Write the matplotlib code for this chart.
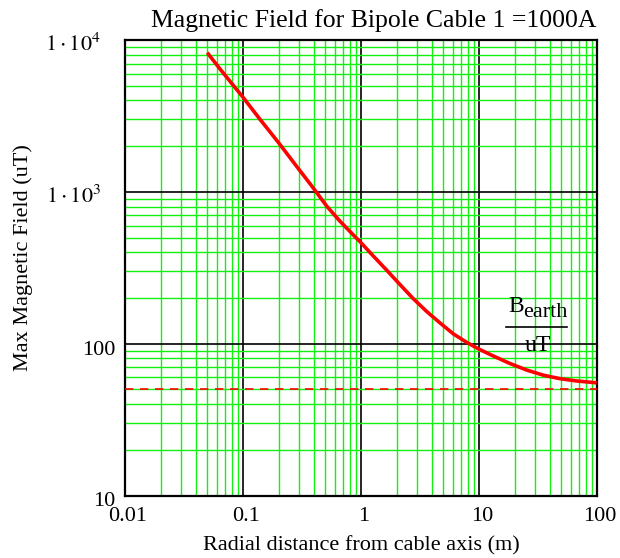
import matplotlib
matplotlib.use("Agg")
import matplotlib.pyplot as plt
from matplotlib.ticker import FixedLocator, LogLocator, NullFormatter
from matplotlib.lines import Line2D
from matplotlib.transforms import ScaledTranslation

plt.rcParams['font.family'] = ['Liberation Serif', 'DejaVu Serif']
plt.rcParams['mathtext.fontset'] = 'stix'

# data
distance_m = [0.0498, 0.0638, 0.0827, 0.1, 0.139, 0.199, 0.285, 0.394, 0.512,
              0.664, 0.861, 1.0, 1.27, 1.65, 2.14, 2.77, 3.60, 4.67, 6.06,
              7.87, 9.87, 13.2, 18.3, 25.4, 35.1, 48.6, 67.3, 99.4]
field_uT = [8250, 6450, 5030, 4194, 3010, 2120, 1470, 1060, 805,
            640, 520, 462, 378, 305, 245, 198, 163, 137, 116,
            102, 92.5, 83, 74, 67, 62, 58.8, 56.8, 55.2]
b_earth = 50
x_ticks = [0.01, 0.1, 1, 10, 100]
x_tick_labels = ['0.01', '0.1', '1', '10', '100']
y_ticks = [10, 100, 1000, 10000]
y_tick_labels = ['10', '100', r'$1\cdot10^{3}$', r'$1\cdot10^{4}$']

fig = plt.figure(figsize=(6.2, 5.58), dpi=100)
ax = fig.add_axes([125 / 620, 1 - 495.5 / 558, 472 / 620, 455.5 / 558])
ax.set_xscale('log')
ax.set_yscale('log')
ax.set_xlim(0.01, 100)
ax.set_ylim(10, 10000)

ax.xaxis.set_major_locator(FixedLocator(x_ticks))
ax.set_xticklabels(x_tick_labels)
ax.yaxis.set_major_locator(FixedLocator(y_ticks))
ax.set_yticklabels(y_tick_labels)
ax.xaxis.set_minor_locator(LogLocator(base=10, subs=range(2, 10)))
ax.yaxis.set_minor_locator(LogLocator(base=10, subs=range(2, 10)))
ax.xaxis.set_minor_formatter(NullFormatter())
ax.yaxis.set_minor_formatter(NullFormatter())
ax.tick_params(which='both', length=0, labelsize=16)
ax.tick_params(axis='x', pad=8)
ax.tick_params(axis='y', pad=7)

for lab in ax.get_xticklabels():
    lab.set_transform(lab.get_transform() + ScaledTranslation(0.03, 0, fig.dpi_scale_trans))
for lab in ax.get_yticklabels():
    lab.set_va('baseline')
    dx = -0.14 if '$' in lab.get_text() else 0.0
    lab.set_transform(lab.get_transform() + ScaledTranslation(dx, -0.11, fig.dpi_scale_trans))

ax.grid(which='minor', color='#11f011', linewidth=1.0)
ax.grid(which='major', color='black', linewidth=1.2)
ax.set_axisbelow(True)
for s in ax.spines.values():
    s.set_linewidth(1.6)
    s.set_color('black')

ax.plot(distance_m, field_uT, color='#ff0000', linewidth=2.6, zorder=3,
        solid_capstyle='butt', solid_joinstyle='round')
ax.axhline(b_earth, color='#ff0000', linewidth=1.2, linestyle=(0, (5, 4)), zorder=3)

fig.text(374 / 620, 1 - 27 / 558, 'Magnetic Field for Bipole Cable 1 =1000A',
         fontsize=18.5, ha='center', va='baseline')
ax.set_xlabel('Radial distance from cable axis (m)', fontsize=16)
ax.xaxis.set_label_coords(0.5, -0.088)
ax.xaxis.label.set_va('top')
ax.set_ylabel('Max Magnetic Field (uT)', fontsize=16)
ax.yaxis.set_label_coords(-0.195, 0.5225)

fig.text(508 / 620, 1 - 312 / 558, 'B', fontsize=17, ha='left', va='baseline')
fig.text(523 / 620, 1 - 317 / 558, 'earth', fontsize=16, ha='left', va='baseline')
fig.add_artist(Line2D([506 / 620, 567 / 620], [1 - 326.7 / 558, 1 - 326.7 / 558],
                      transform=fig.transFigure, color='black', linewidth=1.2))
fig.text(537.5 / 620, 1 - 351 / 558, 'uT', fontsize=17, ha='center', va='baseline')

fig.savefig('out.png', dpi=100)
